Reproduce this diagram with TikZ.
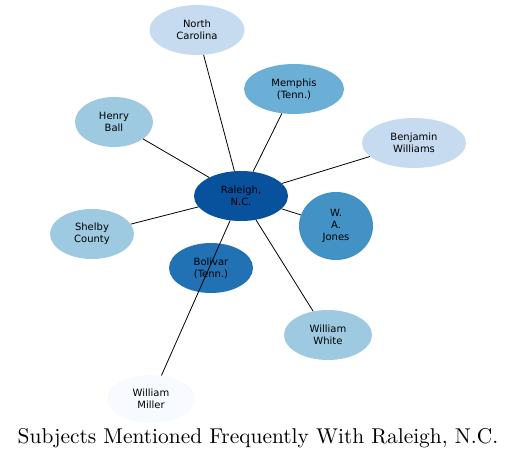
\documentclass[tikz,border=0pt]{standalone}
\usepackage{fontspec}
\newfontfamily\labelfont{DejaVu Sans}
\newfontfamily\titlefont{lmroman10-regular.otf}
\usetikzlibrary{shapes.geometric}
\definecolor{blueA}{HTML}{F7FBFF}
\definecolor{blueB}{HTML}{C6DBEF}
\definecolor{blueC}{HTML}{9ECAE1}
\definecolor{blueD}{HTML}{6BAED6}
\definecolor{blueE}{HTML}{4292C6}
\definecolor{blueF}{HTML}{2171B5}
\definecolor{blueG}{HTML}{08519C}
\begin{document}
\begin{tikzpicture}[x=1pt,y=-1pt,
  subj/.style={ellipse,inner sep=0pt,align=center,
    font=\labelfont\fontsize{10}{12}\selectfont},
  link/.style={line width=0.8pt}]
\useasboundingbox (0,0) rectangle (516,460);

\node[subj,fill=blueB,minimum width=95,minimum height=50] (nc) at (197,30) {North\\Carolina};
\node[subj,fill=blueD,minimum width=100,minimum height=50] (memphis) at (294,89) {Memphis\\(Tenn.)};
\node[subj,fill=blueC,minimum width=78,minimum height=50] (ball) at (114,122) {Henry\\Ball};
\node[subj,fill=blueB,minimum width=104,minimum height=50] (bwilliams) at (414,143) {Benjamin\\Williams};
\node[subj,fill=blueG,minimum width=94,minimum height=50] (raleigh) at (241,196) {Raleigh,\\N.C.};
\node[subj,fill=blueE,minimum width=74,minimum height=68] (jones) at (336,226) {W.\\A.\\Jones};
\node[subj,fill=blueC,minimum width=84,minimum height=50] (shelby) at (92,234) {Shelby\\County};
\node[subj,fill=blueF,minimum width=84,minimum height=50] (bolivar) at (211,268) {Bolivar\\(Tenn.)};
\node[subj,fill=blueC,minimum width=88,minimum height=50] (white) at (328,335) {William\\White};
\node[subj,fill=blueA,minimum width=88,minimum height=48] (miller) at (151,399) {William\\Miller};

\foreach \other in {nc,memphis,ball,bwilliams,jones,shelby,white,miller}
  \draw[link] (raleigh) -- (\other);

\node[font=\titlefont\fontsize{21.4}{24}\selectfont] (title) at (258,438) {Subjects Mentioned Frequently With Raleigh, N.C.};
\end{tikzpicture}
\end{document}
